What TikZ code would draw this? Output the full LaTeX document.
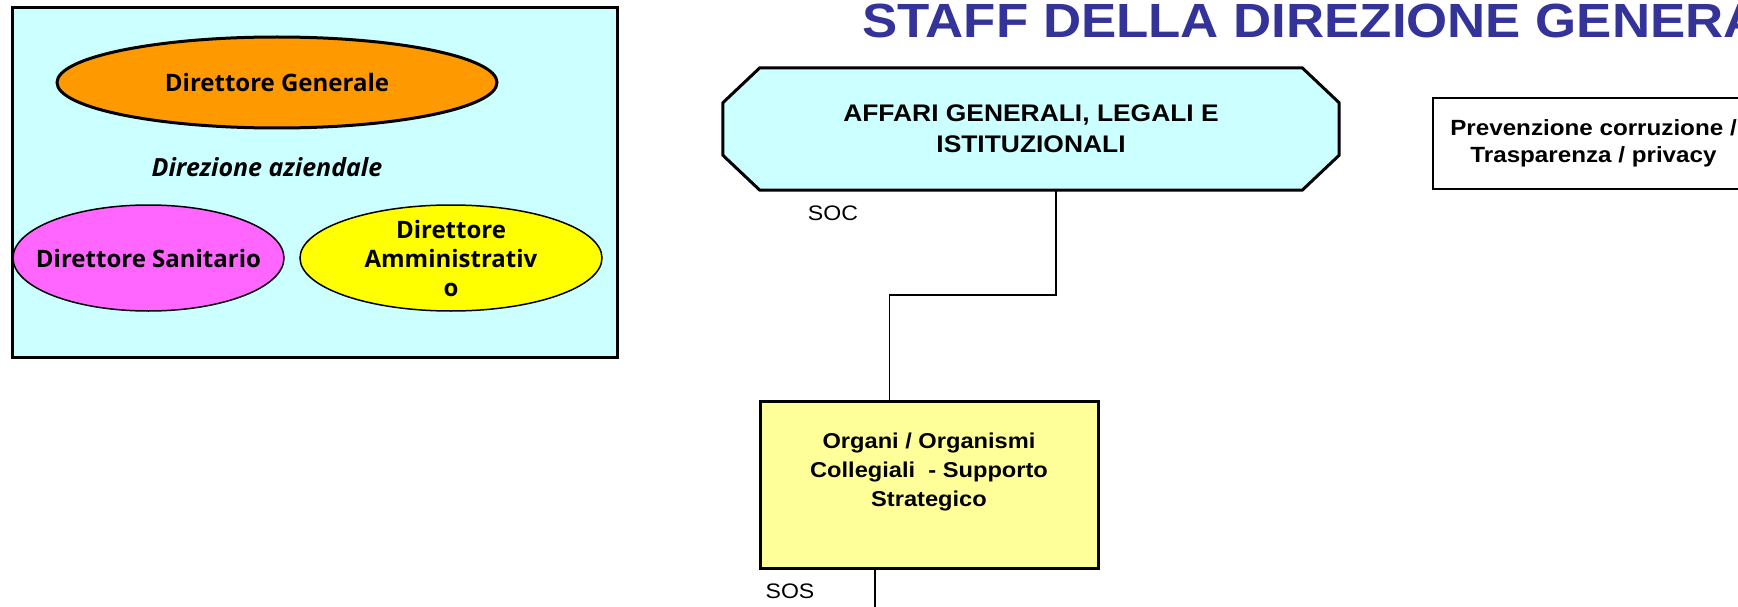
\documentclass[tikz,border=0pt]{standalone}
\usepackage{fontspec}
\setmainfont{Liberation Sans}[FakeStretch=1.1]
\newfontfamily\opensans{Open Sans}
\usetikzlibrary{shapes.geometric,backgrounds}
\definecolor{dircyan}{HTML}{CCFFFF}
\definecolor{dirorange}{HTML}{FF9900}
\definecolor{dirpink}{HTML}{FF66FF}
\definecolor{diryellow}{HTML}{FFFF00}
\definecolor{paleyellow}{HTML}{FFFF99}
\definecolor{titleblue}{HTML}{333399}
\tikzset{
    direll/.style={ellipse, draw, inner xsep=-200pt, inner ysep=-100pt, align=center, font=\opensans\bfseries\fontsize{24}{29}\selectfont},
    unitbox/.style={draw, line width=3pt, inner sep=0pt, align=center, font=\bfseries\fontsize{21.5}{29}\selectfont},
    link/.style={line width=1.5pt},
}
\begin{document}
\begin{tikzpicture}[x=1pt, y=-1pt]
            \useasboundingbox (0,0) rectangle (1738,607);
            \node(direzione) at (314.5,182.5) [draw, fill=dircyan, line width=3pt, minimum width=605pt, minimum height=349pt] {};
            \node(dg) at (277,82.5) [direll, fill=dirorange, line width=3pt, minimum width=440pt, minimum height=91pt] {Direttore Generale};
            \node(dirazi) at (267,167) [font=\opensans\bfseries\itshape\fontsize{25}{29}\selectfont] {Direzione aziendale};
            \node(ds) at (148.5,258) [direll, fill=dirpink, line width=1.5pt, minimum width=271pt, minimum height=106pt] {Direttore Sanitario};
            \node(da) at (451,258) [direll, fill=diryellow, line width=1.5pt, minimum width=302pt, minimum height=106pt] {Direttore\\Amministrativ\\o};

            \node(title) at (862,38) [anchor=base west, inner sep=0pt, text=titleblue, font=\bfseries\fontsize{48}{55}\selectfont] {STAFF DELLA DIREZIONE GENERALE};

            \node(affari) at (1031,129) [inner sep=0pt, align=center, minimum width=616pt, minimum height=122pt, font=\bfseries\fontsize{24}{31}\selectfont] {AFFARI GENERALI, LEGALI E\\ISTITUZIONALI};
            \begin{scope}[on background layer]
                \filldraw[fill=dircyan, line width=3pt, line join=round] ([xshift=37pt]affari.north west) -- ([xshift=-37pt]affari.north east) -- ([yshift=-35pt]affari.north east) -- ([yshift=35pt]affari.south east) -- ([xshift=-37pt]affari.south east) -- ([xshift=37pt]affari.south west) -- ([yshift=35pt]affari.south west) -- ([yshift=-35pt]affari.north west) -- cycle;
            \end{scope}
            \node(soc) at (833,213) [font=\fontsize{21}{25}\selectfont] {SOC};
            \node(prev) at (1593.5,143.5) [unitbox, line width=2pt, minimum width=321pt, minimum height=91pt, font=\bfseries\fontsize{22}{27}\selectfont] {Prevenzione corruzione /\\Trasparenza / privacy};

            \node(organi) at (929,484.5) [unitbox, fill=paleyellow, minimum width=338pt, minimum height=167pt] {Organi / Organismi\\Collegiali\ \ - Supporto\\Strategico\\\mbox{}};
            \node(sos) at (790,591) [font=\fontsize{21}{25}\selectfont] {SOS};
            \coordinate(sosend) at (875,612);

            \draw[link] ([xshift=25pt]affari.south) -- ++(0,105) -| ([xshift=-39.5pt]organi.north);
            \draw[link] ([xshift=-54pt]organi.south) -- (sosend);
\end{tikzpicture}
\end{document}
